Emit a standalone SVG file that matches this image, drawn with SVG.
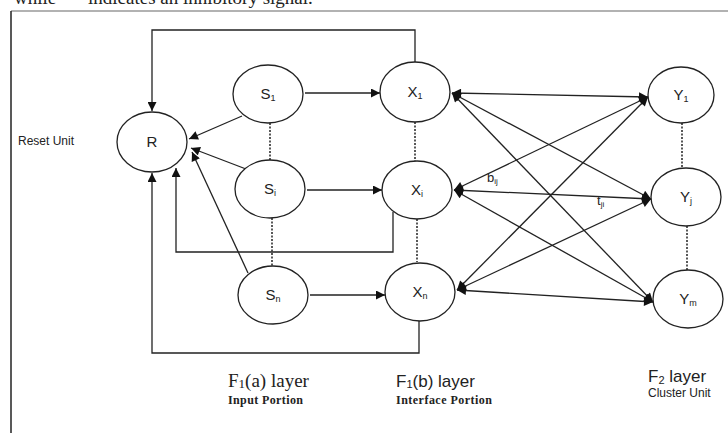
<svg xmlns="http://www.w3.org/2000/svg" width="728" height="433" viewBox="0 0 728 433">
<style>
.node{fill:#fff;stroke:#222;stroke-width:1.3}
.lbl{font-family:"Liberation Sans","DejaVu Sans",sans-serif;font-size:15px;fill:#222;text-anchor:middle}
.sub{font-size:9px}
.dot{stroke:#222;stroke-width:1.5;stroke-dasharray:2,1.5;fill:none}
.ln{stroke:#222;stroke-width:1.3;fill:none}
.arr{marker-end:url(#ah)}
.dbl{marker-start:url(#ah);marker-end:url(#ah)}
.serif{font-family:"Liberation Serif","Times New Roman",serif;fill:#222}
.sans{font-family:"Liberation Sans","DejaVu Sans",sans-serif;fill:#222}
</style>
<defs>
<marker id="ah" viewBox="0 0 10 10" refX="10" refY="5" markerWidth="10" markerHeight="9" markerUnits="userSpaceOnUse" orient="auto-start-reverse">
<path d="M0,0 L10,5 L0,10 z" fill="#111"/>
</marker>
</defs>
<rect width="728" height="433" fill="#fff"/>
<text class="serif" x="14" y="4" font-size="19">while</text>
<text class="serif" x="88" y="4" font-size="19">indicates an inhibitory signal.</text>
<line x1="11" y1="11" x2="728" y2="11" stroke="#999" stroke-width="1.5"/>
<line x1="11" y1="11" x2="11" y2="433" stroke="#222" stroke-width="1.5"/>

<g id="connectors">
<path class="ln arr" d="M415,63 V30 H152 V111"/>
<path class="ln arr" d="M393,212 V252 H176 V168"/>
<path class="ln arr" d="M419,321 V353 H152 V173"/>
<line class="ln arr" x1="242" y1="116" x2="189" y2="139"/>
<line class="ln arr" x1="246" y1="169" x2="191" y2="148"/>
<line class="ln arr" x1="248" y1="273" x2="192" y2="152"/>
<line class="ln arr" x1="305" y1="93" x2="380" y2="93"/>
<line class="ln arr" x1="307" y1="190" x2="382" y2="190"/>
<line class="ln arr" x1="310" y1="295" x2="385" y2="295"/>
<line class="dot" x1="270" y1="123" x2="270" y2="160"/>
<line class="dot" x1="272" y1="218" x2="272" y2="266"/>
<line class="dot" x1="415" y1="122" x2="415" y2="161"/>
<line class="dot" x1="417" y1="219" x2="417" y2="262"/>
<line class="dot" x1="682" y1="123" x2="682" y2="168"/>
<line class="dot" x1="687" y1="226" x2="687" y2="270"/>
<line class="ln dbl" x1="452" y1="93" x2="648" y2="97"/>
<line class="ln dbl" x1="452" y1="93" x2="651" y2="199"/>
<line class="ln dbl" x1="452" y1="93" x2="653" y2="302"/>
<line class="ln dbl" x1="454" y1="190" x2="648" y2="97"/>
<line class="ln dbl" x1="454" y1="190" x2="651" y2="199"/>
<line class="ln dbl" x1="454" y1="190" x2="653" y2="302"/>
<line class="ln dbl" x1="457" y1="290" x2="648" y2="97"/>
<line class="ln dbl" x1="457" y1="290" x2="651" y2="199"/>
<line class="ln dbl" x1="457" y1="290" x2="653" y2="302"/>
<text class="sans" x="487" y="182" font-size="13">b<tspan font-size="8" dy="2">ij</tspan></text>
<text class="sans" x="597" y="205" font-size="13">t<tspan font-size="8" dy="2">ji</tspan></text>
</g>

<g id="node-R"><ellipse class="node" cx="152" cy="142" rx="35" ry="30"/><text class="lbl" x="152" y="147">R</text></g>
<g id="node-S1"><ellipse class="node" cx="268" cy="94" rx="35" ry="29"/><text class="lbl" x="268" y="99">S<tspan class="sub" dy="2">1</tspan></text></g>
<g id="node-Si"><ellipse class="node" cx="270" cy="189" rx="35" ry="29"/><text class="lbl" x="270" y="194">S<tspan class="sub" dy="2">i</tspan></text></g>
<g id="node-Sn"><ellipse class="node" cx="273" cy="295" rx="35" ry="29"/><text class="lbl" x="273" y="300">S<tspan class="sub" dy="2">n</tspan></text></g>
<g id="node-X1"><ellipse class="node" cx="415" cy="92" rx="35" ry="30"/><text class="lbl" x="415" y="97">X<tspan class="sub" dy="2">1</tspan></text></g>
<g id="node-Xi"><ellipse class="node" cx="417" cy="190" rx="35" ry="29"/><text class="lbl" x="417" y="195">X<tspan class="sub" dy="2">i</tspan></text></g>
<g id="node-Xn"><ellipse class="node" cx="420" cy="292" rx="35" ry="29"/><text class="lbl" x="420" y="297">X<tspan class="sub" dy="2">n</tspan></text></g>
<g id="node-Y1"><ellipse class="node" cx="681" cy="95" rx="33" ry="28"/><text class="lbl" x="681" y="100">Y<tspan class="sub" dy="2">1</tspan></text></g>
<g id="node-Yj"><ellipse class="node" cx="686" cy="197" rx="35" ry="29"/><text class="lbl" x="686" y="202">Y<tspan class="sub" dy="2">j</tspan></text></g>
<g id="node-Ym"><ellipse class="node" cx="688" cy="299" rx="35" ry="29"/><text class="lbl" x="688" y="304">Y<tspan class="sub" dy="2">m</tspan></text></g>

<text class="sans" x="18" y="145" font-size="12">Reset  Unit</text>
<text class="serif" x="228" y="387" font-size="19">F<tspan font-size="13" dy="1">1</tspan><tspan dy="-1">(a) layer</tspan></text>
<text class="serif" x="228" y="404" font-size="12" font-weight="bold" textLength="75">Input Portion</text>
<text class="sans" x="396" y="387" font-size="17">F<tspan font-size="11" dy="1">1</tspan><tspan dy="-1">(b) layer</tspan></text>
<text class="serif" x="396" y="404" font-size="12" font-weight="bold" textLength="96">Interface Portion</text>
<text class="sans" x="648" y="382" font-size="17">F<tspan font-size="11" dy="2">2</tspan><tspan dy="-2"> layer</tspan></text>
<text class="sans" x="648" y="397" font-size="12">Cluster Unit</text>
</svg>
